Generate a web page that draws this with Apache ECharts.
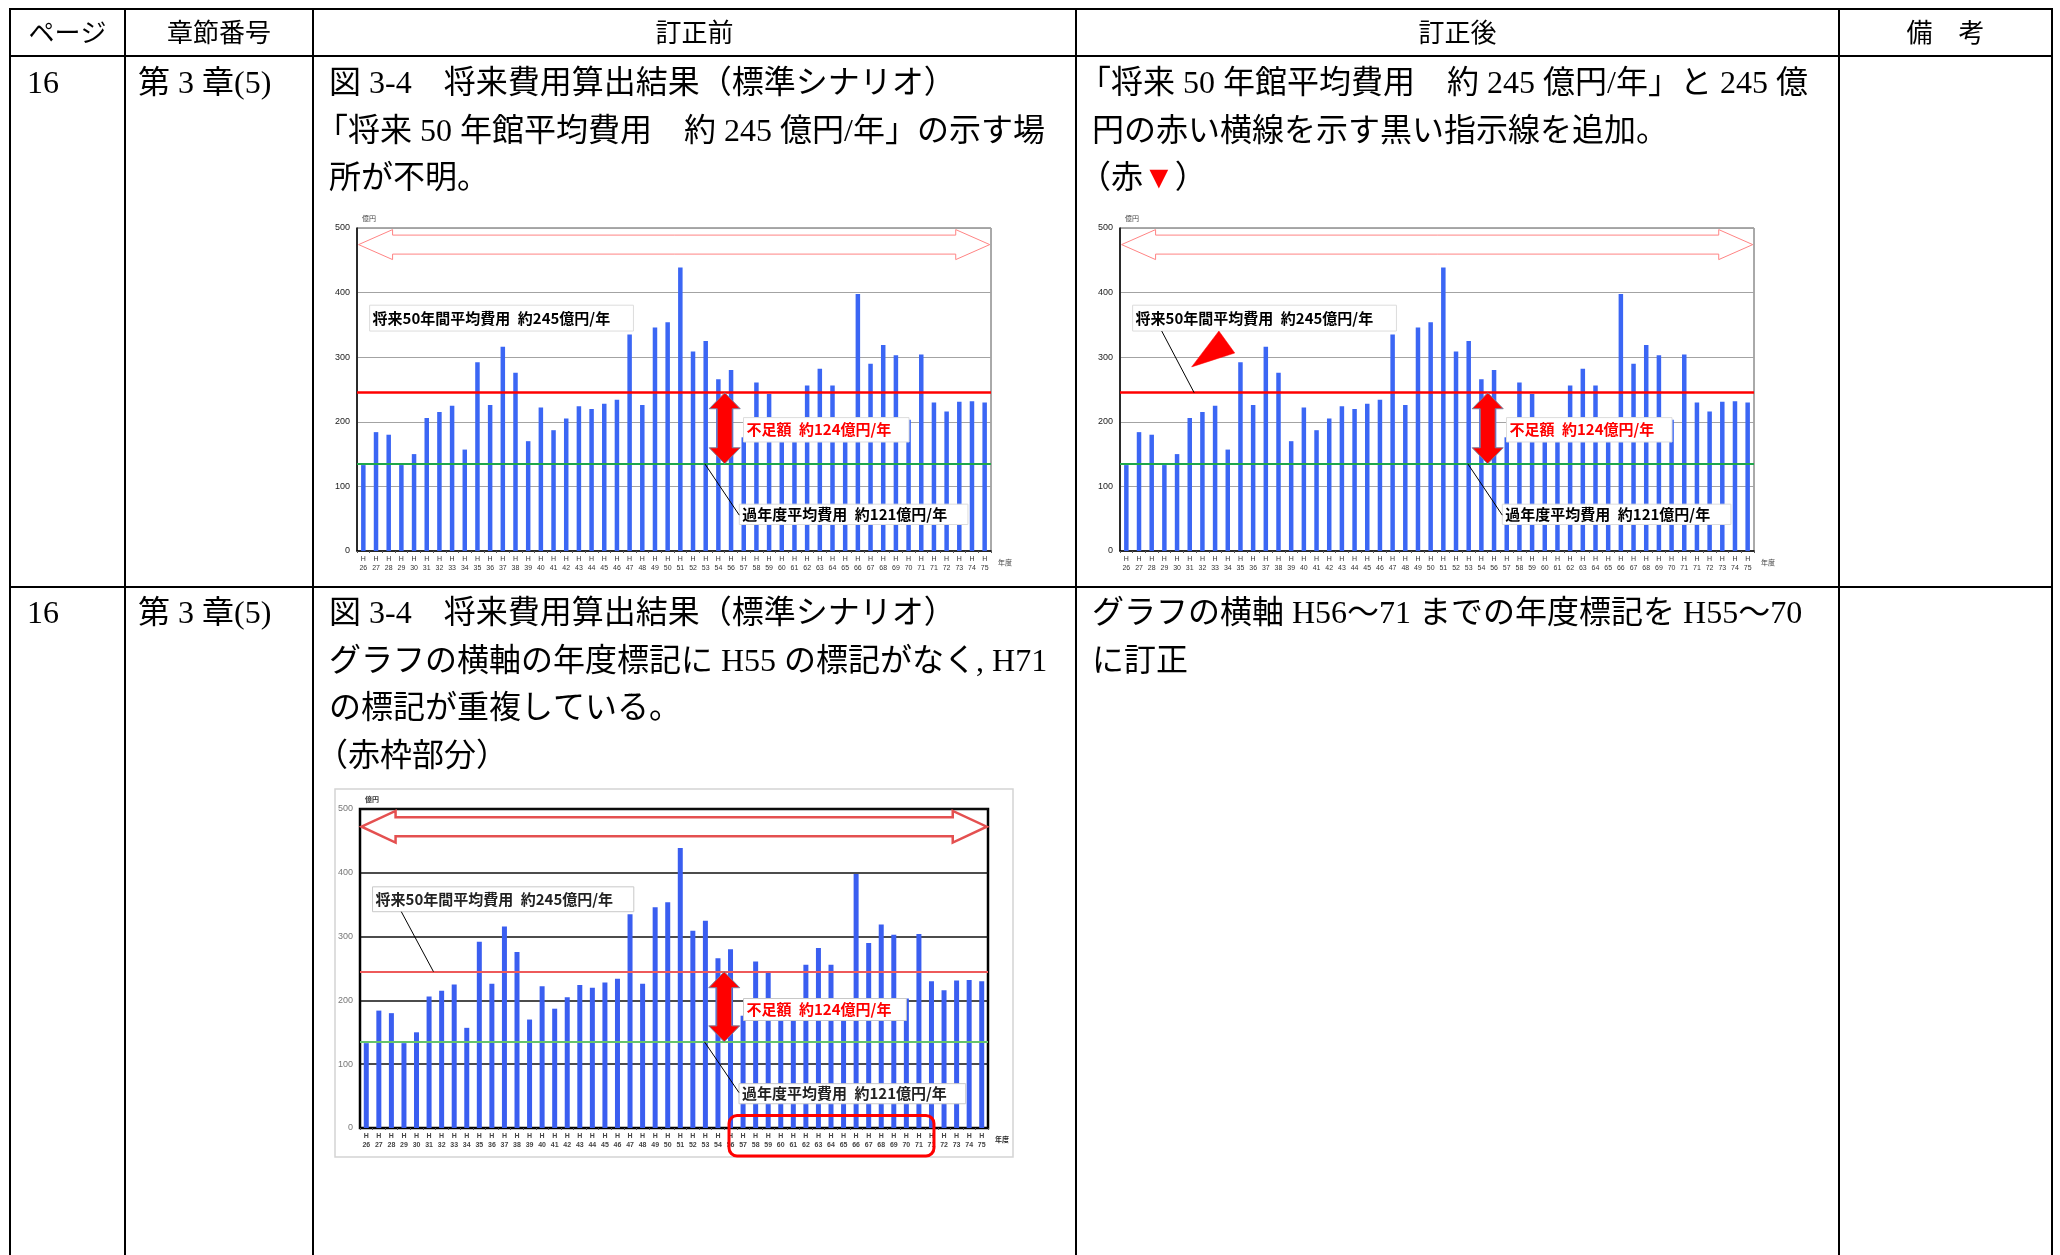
<!DOCTYPE html>
<html><head><meta charset="utf-8">
<script src="https://cdn.jsdelivr.net/npm/echarts@6/dist/echarts.min.js"></script>
<style>html,body{margin:0;padding:0;background:#fff;}#c{width:2060px;height:1255px;}</style>
</head><body><div id="c"></div>
<script>
// ---- data ----
const yearLabels = ['26','27','28','29','30','31','32','33','34','35','36','37','38','39','40','41','42','43','44','45','46','47','48','49','50','51','52','53','54','56','57','58','59','60','61','62','63','64','65','66','67','68','69','70','71','71','72','73','74','75'];
const costs = [133,184,180,133,150,206,215,225,157,292,226,316,276,170,222,187,205,224,220,228,234,335,226,346,354,439,309,325,266,280,176,261,243,188,182,256,282,256,190,398,290,319,303,203,304,230,216,231,232,230];
const futureAvg = 245;
const pastAvg = 135;
const yMin = 0, yMax = 500, yStep = 100;
const txtFuture = '将来50年間平均費用\u2002約245億円/年';
const txtShort = '不足額\u2002約124億円/年';
const txtPast = '過年度平均費用\u2002約121億円/年';
const headers = ['ページ','章節番号','訂正前','訂正後','備　考'];
const row1 = {page:'16', chap:'第 3 章(5)',
  before:['図 3-4　将来費用算出結果（標準シナリオ）','「将来 50 年館平均費用　約 245 億円/年」の示す場','所が不明。'],
  after:['「将来 50 年館平均費用　約 245 億円/年」と 245 億','円の赤い横線を示す黒い指示線を追加。','（赤▼）']};
const row2 = {page:'16', chap:'第 3 章(5)',
  before:['図 3-4　将来費用算出結果（標準シナリオ）','グラフの横軸の年度標記に H55 の標記がなく, H71','の標記が重複している。','（赤枠部分）'],
  after:['グラフの横軸 H56～71 までの年度標記を H55～70','に訂正']};

const categories = yearLabels.map(y => 'H\n' + y);

// ---- layout ----
const GRIDS = [
  {left:357, top:228, width:634, height:323},
  {left:1120, top:228, width:634, height:323},
  {left:360, top:809, width:628, height:319}
];
const STY = [
  {frame:'#555', frameW:1, split:'#a3a3a3', splitW:1, bar:'#3b66f4', lab:'#222', red:'#ff0000', green:'#1fa84a', redW:2.5, xlab:'#333', arrowStroke:'#ff8484', arrowW:1, boxStroke:'#dcdcdc', txt:'#000'},
  {frame:'#555', frameW:1, split:'#a3a3a3', splitW:1, bar:'#3b66f4', lab:'#222', red:'#ff0000', green:'#1fa84a', redW:2.5, xlab:'#333', arrowStroke:'#ff8484', arrowW:1, boxStroke:'#dcdcdc', txt:'#000'},
  {frame:'#000', frameW:2.5, split:'#111', splitW:1.6, bar:'#3a5ef0', lab:'#777', red:'#ee5a5a', green:'#66c46a', redW:2, xlab:'#444', arrowStroke:'#e45050', arrowW:2.5, boxStroke:'#c8c8c8', txt:'#222'}
];

const chart = echarts.init(document.getElementById('c'), null, {width:2060, height:1255});

const option = {
  animation:false,
  backgroundColor:'#fff',
  grid: GRIDS.map((g,i)=>({left:g.left, top:g.top, width:g.width, height:g.height, show:true,
      borderColor:STY[i].frame, borderWidth:STY[i].frameW, backgroundColor:'rgba(0,0,0,0)'})),
  xAxis: GRIDS.map((g,i)=>({type:'category', gridIndex:i, data:categories,
      axisLine:{lineStyle:{color:'#000', width:1.5}},
      axisTick:{show:true, length:2, lineStyle:{color:'#555'}},
      axisLabel:{interval:0, fontSize:7, lineHeight:9, margin:4, color:STY[i].xlab, fontFamily:'Liberation Sans', fontWeight: i===2?'bold':'normal'}})),
  yAxis: GRIDS.map((g,i)=>({type:'value', gridIndex:i, min:yMin, max:yMax, interval:yStep,
      axisLine:{show:true, lineStyle:{color:'#000', width:1.5}},
      axisTick:{show:false},
      axisLabel:{fontSize:9, margin:7, color:STY[i].lab, fontFamily:'Liberation Sans'},
      splitLine:{lineStyle:{color:STY[i].split, width:STY[i].splitW}}})),
  series: GRIDS.map((g,i)=>({type:'bar', xAxisIndex:i, yAxisIndex:i, data:costs,
      barWidth: i===2?5:4.5, itemStyle:{color:STY[i].bar}, silent:true,
      markLine:{silent:true, symbol:['none','none'], label:{show:false},
        data:[{yAxis:futureAvg, lineStyle:{color:STY[i].red, width:STY[i].redW, type:'solid'}},
              {yAxis:pastAvg, lineStyle:{color:STY[i].green, width:2, type:'solid'}}]}}))
};
chart.setOption(option);

// ---- graphics ----
const G = [];
const mctx = document.createElement('canvas').getContext('2d');
function tw(t, font){ mctx.font = font; return mctx.measureText(t).width; }
function T(text, x, y, font, fill, align, z){
  G.push({type:'text', x:x, y:y, z:z||60, silent:true,
    style:{text:text, font:font, fill:fill||'#000', textAlign:align||'left', textVerticalAlign:'middle', align:align||'left', verticalAlign:'middle'}});
}
function L(x1,y1,x2,y2,stroke,lw,z){
  G.push({type:'line', z:z||60, silent:true, shape:{x1,y1,x2,y2}, style:{stroke:stroke, lineWidth:lw}});
}
function R(x,y,w,h,fill,stroke,lw,z,r){
  G.push({type:'rect', z:z||55, silent:true, shape:{x,y,width:w,height:h,r:r||0}, style:{fill:fill, stroke:stroke, lineWidth:lw}});
}
function P(points, fill, stroke, lw, z){
  G.push({type:'polygon', z:z||58, silent:true, shape:{points:points}, style:{fill:fill, stroke:stroke, lineWidth:lw}});
}

// table
const TX = [10,125,313,1076,1839,2052];
const TYtop = 9, THead = 56, TSep = 587, TBot = 1262;
[TYtop, THead, TSep].forEach(y=>L(TX[0]-1, y, TX[5]+1, y, '#000', 2));
TX.forEach(x=>L(x, TYtop-1, x, TBot, '#000', 2));
const headFont = "26px 'Noto Sans CJK JP'";
const bodyFont = "32px 'Liberation Serif', 'Noto Sans CJK JP'";
headers.forEach((h,i)=>T(h, (TX[i]+TX[i+1])/2, 32, headFont, '#000', 'center'));

function bodyLine(text, x, y){
  let xx = x;
  if (text[0]==='「' || text[0]==='（') xx -= 13;
  const idx = text.indexOf('▼');
  if (idx >= 0) {
    const a = text.slice(0, idx), b = '▼', c = text.slice(idx+1);
    T(a, xx, y, bodyFont, '#000');
    const wa = tw(a, bodyFont);
    T(b, xx+wa, y, bodyFont, '#ff0000');
    T(c, xx+wa+tw(b, bodyFont), y, bodyFont, '#000');
  } else T(text, xx, y, bodyFont, '#000');
}
const r1y = [84.5, 132.5, 180];
const r2y = [615, 663, 710, 758];
T(row1.page, 27, r1y[0], bodyFont); T(row1.chap, 138, r1y[0], bodyFont);
row1.before.forEach((t,k)=>bodyLine(t, 329, r1y[k]));
row1.after.forEach((t,k)=>bodyLine(t, 1092, r1y[k]));
T(row2.page, 27, r2y[0], bodyFont); T(row2.chap, 138, r2y[0], bodyFont);
row2.before.forEach((t,k)=>bodyLine(t, 329, r2y[k]));
row2.after.forEach((t,k)=>bodyLine(t, 1092, r2y[k]));

// chart 3 picture frame
R(335, 789, 678, 368, 'none', '#d4d4d4', 1.5, 1);

function annotate(i){
  const g = GRIDS[i], s = STY[i];
  const X = f => g.left + f*g.width;
  const Y = f => g.top + f*g.height;
  const px = (c,v) => chart.convertToPixel({xAxisIndex:i, yAxisIndex:i}, [c, v]);
  const yRed = chart.convertToPixel({yAxisIndex:i}, futureAvg);
  const yGreen = chart.convertToPixel({yAxisIndex:i}, pastAvg);
  const bottom = g.top + g.height, right = g.left + g.width;
  const labFont = "7px 'Noto Sans CJK JP'";
  T('億円', g.left+5, g.top-10, (i===2?'bold ':'')+labFont, i===2?'#333':'#444');
  T('年度', right+7, bottom+11, (i===2?'bold ':'')+labFont, i===2?'#222':'#444');

  // top hollow double arrow
  const cy = Y(i===2?0.0556:0.0514), x0 = X(0.0025), x1 = X(0.998), hl = 34, hh = i===2?15.8:15, sh = 9.5;
  P([[x0,cy],[x0+hl,cy-hh],[x0+hl,cy-sh],[x1-hl,cy-sh],[x1-hl,cy-hh],[x1,cy],[x1-hl,cy+hh],[x1-hl,cy+sh],[x0+hl,cy+sh],[x0+hl,cy+hh]],
    '#fff', s.arrowStroke, s.arrowW, 57);

  // text boxes
  const annFont = "bold 15px 'Noto Sans CJK JP'";
  const bx = (a,b,c,d) => ({x:X(a), y:Y(c), w:X(b)-X(a), h:Y(d)-Y(c)});
  const bF = i===2 ? bx(0.020,0.436,0.244,0.322) : bx(0.0199,0.436,0.239,0.319);
  const bS = i===2 ? bx(0.6107,0.870,0.594,0.663) : bx(0.6096,0.8707,0.587,0.6625);
  const bP = i===2 ? bx(0.6035,0.9645,0.861,0.924) : bx(0.603,0.9636,0.855,0.918);
  [[bF, txtFuture, s.txt],[bS, txtShort, '#ff0000'],[bP, txtPast, s.txt]].forEach(([b,t,c])=>{
    R(b.x, b.y, b.w, b.h, '#fff', s.boxStroke, 1, 55);
    T(t, b.x+3, b.y+b.h/2, annFont, c, 'left', 61);
  });

  // leader to past-average line
  L(X(0.5486), yGreen, bP.x, Y(0.889), '#000', 1, 59);

  // red vertical double arrow between the two averages
  const cx = (px(28,0)[0] + px(29,0)[0]) / 2;
  const ah = 16, aw = 15.5, sw = 7.5;
  P([[cx,yRed],[cx+aw,yRed+ah],[cx+sw,yRed+ah],[cx+sw,yGreen-ah],[cx+aw,yGreen-ah],[cx,yGreen],[cx-aw,yGreen-ah],[cx-sw,yGreen-ah],[cx-sw,yRed+ah],[cx-aw,yRed+ah]],
    '#ff0000', '#7d7f9a', 1, 58);

  if (i >= 1) {
    // leader from the future-average label to the red line
    L(X(0.0658), bF.y+bF.h, X(0.117), yRed, '#000', 1, 59);
  }
  if (i === 1) {
    P([[X(0.156),Y(0.319)],[X(0.181),Y(0.387)],[X(0.113),Y(0.430)]], '#ff0000', '#ff0000', 0.5, 58);
  }
  if (i === 2) {
    const lx = px(29,0)[0] - 1.5, rx = px(45,0)[0] + 2.5;
    R(lx, bottom-12.5, rx-lx, 40.5, 'none', '#ff0000', 3, 62, 8);
  }
}
[0,1,2].forEach(annotate);
chart.setOption({graphic:{elements:G}});
</script></body></html>
